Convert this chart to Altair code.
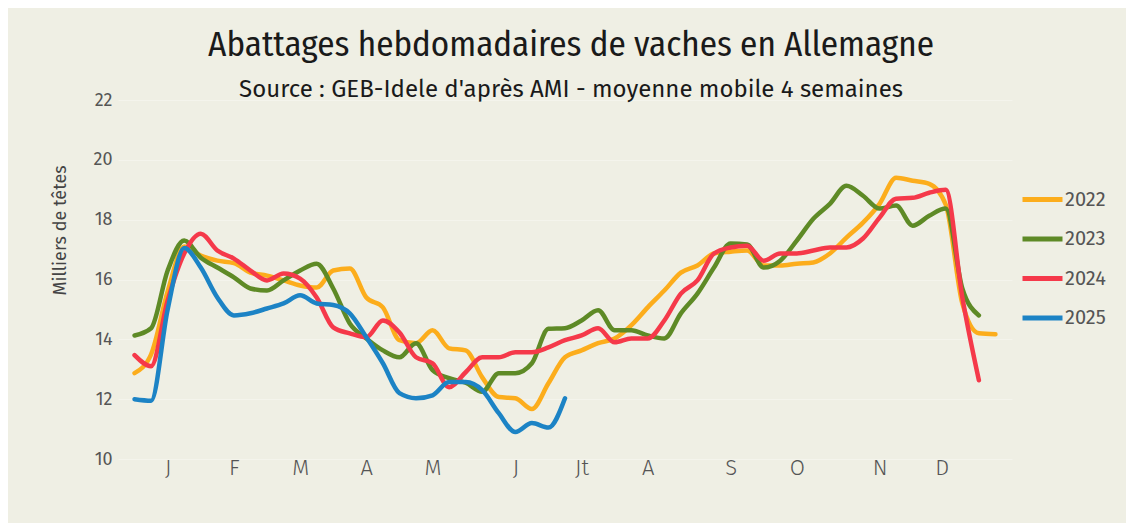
import altair as alt
import pandas as pd

years = ["2022", "2023", "2024", "2025"]
colors = ["#FCAD1C", "#5E8A26", "#F5394A", "#1C83C5"]

v2022 = [12.87, 13.5, 15.6, 17.1, 16.8, 16.63, 16.55, 16.23, 16.13, 15.97, 15.8, 15.73, 16.3,
         16.37, 15.4, 15.07, 13.97, 13.87, 14.3, 13.7, 13.63, 12.73, 12.07, 12.03, 11.67, 12.53,
         13.4, 13.63, 13.87, 14.03, 14.47, 15.07, 15.63, 16.23, 16.47, 16.87, 16.93, 16.97, 16.47,
         16.47, 16.53, 16.57, 16.87, 17.4, 17.9, 18.53, 19.4, 19.3, 19.2, 18.5, 15.2, 14.2, 14.17]
v2023 = [14.13, 14.37, 16.3, 17.3, 16.73, 16.4, 16.07, 15.7, 15.63, 15.97, 16.3, 16.53, 15.7,
         14.53, 14.03, 13.63, 13.4, 13.87, 12.97, 12.7, 12.55, 12.25, 12.87, 12.87, 13.2, 14.35,
         14.37, 14.63, 14.97, 14.3, 14.3, 14.13, 14.03, 14.87, 15.53, 16.4, 17.2, 17.17, 16.4,
         16.63, 17.3, 18.03, 18.53, 19.13, 18.8, 18.37, 18.47, 17.8, 18.13, 18.37, 15.7, 14.8]
v2024 = [13.47, 13.1, 15.3, 16.87, 17.53, 16.97, 16.7, 16.3, 15.97, 16.2, 16.03, 15.4, 14.4,
         14.2, 14.07, 14.63, 14.23, 13.4, 13.2, 12.4, 12.9, 13.4, 13.4, 13.57, 13.57, 13.73,
         13.97, 14.13, 14.37, 13.9, 14.03, 14.03, 14.63, 15.53, 15.97, 16.87, 17.07, 17.13, 16.63,
         16.87, 16.87, 16.97, 17.07, 17.07, 17.37, 18.07, 18.7, 18.73, 18.9, 19.0, 15.4, 12.63]
v2025 = [12.0, 11.95, 15.0, 17.05, 16.4, 15.4, 14.8, 14.87, 15.03, 15.2, 15.47, 15.2, 15.15,
         14.87, 14.07, 13.2, 12.2, 12.03, 12.13, 12.57, 12.57, 12.3, 11.53, 10.9, 11.2, 11.05, 12.03]

month_labels = ["J", "F", "M", "A", "M", "J", "Jt", "A", "S", "O", "N", "D"]
month_weeks = [3, 7, 11, 15, 19, 24, 28, 32, 37, 41, 46, 49.75]
y_ticks = [10, 12, 14, 16, 18, 20, 22]

rows = []
for yr, vals in zip(years, [v2022, v2023, v2024, v2025]):
    for i, v in enumerate(vals):
        rows.append({"annee": yr, "semaine": i + 1, "valeur": v})
df = pd.DataFrame(rows)

label_expr = ("[" + ",".join("'%s'" % m for m in month_labels) + "][indexof(["
              + ",".join(str(w) for w in month_weeks) + "], datum.value)]")

base_font = "Fira Sans, Open Sans, sans-serif"
title_font = "Fira Sans Condensed, Roboto Condensed, DejaVu Sans Condensed, sans-serif"

chart = alt.Chart(df).mark_line(strokeWidth=4.5, interpolate="monotone", strokeCap="round").encode(
    x=alt.X("semaine:Q", scale=alt.Scale(domain=[0, 54], nice=False, zero=False),
            axis=alt.Axis(values=month_weeks, labelExpr=label_expr, title=None, grid=False,
                          domain=False, ticks=False, labelPadding=-2, labelFontSize=22,
                          labelColor="#555555", labelFont=base_font, labelFontWeight=300)),
    y=alt.Y("valeur:Q", scale=alt.Scale(domain=[10, 22], nice=False, zero=False),
            axis=alt.Axis(values=y_ticks, title="Milliers de têtes", domain=False, ticks=False,
                          labelPadding=6, labelFontSize=18, labelColor="#555555",
                          labelFont=base_font, titleFont=base_font, titleFontSize=18,
                          titleFontWeight="normal", titleColor="#444444", titleX=-58, titleY=130,
                          titleAngle=-90, titleAlign="center", titleBaseline="middle",
                          grid=True, gridColor="#FFFFFF", gridOpacity=0.3, gridWidth=1)),
    color=alt.Color("annee:N", scale=alt.Scale(domain=years, range=colors),
                    legend=alt.Legend(title=None, orient="none", legendX=902, legendY=77,
                                      symbolType="stroke", symbolSize=1600, symbolStrokeWidth=5,
                                      labelFontSize=20, labelColor="#555555", labelFont=base_font,
                                      rowPadding=6.5, labelOffset=0)),
    order=alt.Order("annee:N"),
).properties(
    width=894,
    height=359,
    padding={"left": 110, "top": 92, "right": 114, "bottom": 64},
    autosize=alt.AutoSizeParams(type="none"),
    background="#EFEFE4",
    title=alt.TitleParams(
        text="Abattages hebdomadaires de vaches en Allemagne",
        subtitle="Source : GEB-Idele d'après AMI - moyenne mobile 4 semaines",
        font=title_font, fontSize=35, fontWeight="normal", color="#1a1a1a",
        subtitleFont=base_font, subtitleFontSize=24, subtitleColor="#1a1a1a",
        subtitlePadding=15, anchor="middle", frame="group", offset=-11, dx=6,
    ),
).configure_view(stroke=None)

chart.save("out.html", embed_options={"renderer": "svg", "actions": False})
